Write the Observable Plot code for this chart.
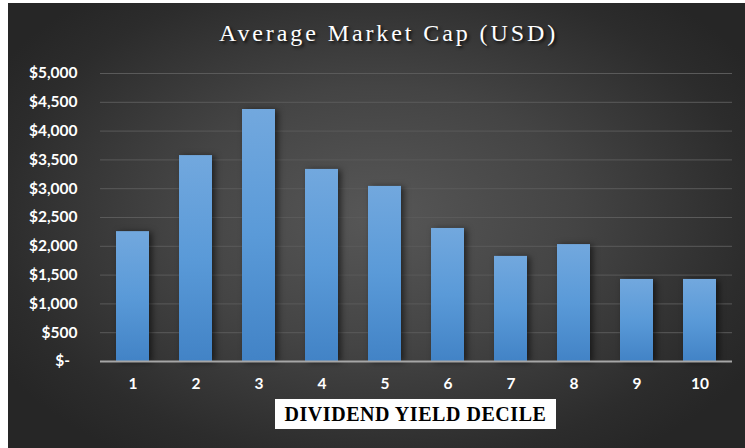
<!DOCTYPE html>
<html>
<head>
<meta charset="utf-8">
<script src="https://cdn.jsdelivr.net/npm/d3@7"></script>
<script src="https://cdn.jsdelivr.net/npm/@observablehq/plot@0.6"></script>
<style>
  html, body { margin: 0; padding: 0; background: #ffffff; }
  #chart {
    position: absolute; left: 8px; top: 3px; width: 737px; height: 445px;
    background: radial-gradient(ellipse 60% 65% at 50% 48%, #575757 0%, #444444 45%, #2c2c2c 85%, #262626 100%);
    overflow: hidden;
  }
  #title {
    position: absolute; left: 12px; top: 0; width: 737px; height: 50px;
    text-align: center; color: #ffffff;
    font-family: "Liberation Serif", "DejaVu Serif", serif;
    font-size: 24px; letter-spacing: 2.9px; line-height: 60px;
    text-shadow: 2px 2px 3px rgba(0,0,0,0.75);
  }
  #plot { position: absolute; left: 0; top: 50px; }
  #xtitle {
    position: absolute; left: 267px; top: 396px; width: 281px; height: 30px;
    background: #ffffff; color: #000000; text-align: center;
    font-family: "Liberation Serif", "DejaVu Serif", serif; font-weight: bold;
    font-size: 20px; letter-spacing: 0.55px; line-height: 31px;
  }
  .bars { filter: drop-shadow(3px 1px 3px rgba(0,0,0,0.55)); }
</style>
</head>
<body>
<div id="chart">
  <div id="title">Average Market Cap (USD)</div>
  <div id="plot"></div>
  <div id="xtitle">DIVIDEND YIELD DECILE</div>
</div>
<script>
const deciles = ["1","2","3","4","5","6","7","8","9","10"];
const avgMarketCap = [2255, 3575, 4375, 3335, 3040, 2310, 1825, 2030, 1425, 1425];
const yTicks = [0, 500, 1000, 1500, 2000, 2500, 3000, 3500, 4000, 4500, 5000];

const data = deciles.map((d, i) => ({decile: d, value: avgMarketCap[i]}));
const fmt = v => v === 0 ? "$-\u00a0\u00a0" : "$" + d3.format(",")(v);

const chart = Plot.plot({
  width: 737,
  height: 340,
  marginTop: 20,
  marginBottom: 32,
  marginLeft: 92,
  marginRight: 13,
  style: {background: "transparent", color: "#ffffff", fontFamily: "Lato, 'Open Sans', sans-serif", fontWeight: "bold", overflow: "visible"},
  x: {domain: deciles, paddingInner: 0.48, paddingOuter: 0.24},
  y: {domain: [0, 5000]},
  marks: [
    Plot.ruleY(yTicks.filter(t => t > 0), {stroke: "#5a5a5a", strokeWidth: 1}),
    Plot.barY(data, {x: "decile", y: "value", fill: "url(#barGrad)", className: "bars"}),
    Plot.ruleY([0], {stroke: "#a6a6a6", strokeWidth: 2}),
    Plot.axisY(yTicks, {tickFormat: fmt, label: null, tickSize: 0, tickPadding: 23, fontSize: 15.5, fontWeight: "bold", fill: "#ffffff"}),
    Plot.axisX({label: null, tickSize: 0, tickPadding: 16, fontSize: 15.5, fontWeight: "bold", fill: "#ffffff"})
  ]
});

const svg = d3.select(chart);
const defs = svg.insert("defs", ":first-child");
const g = defs.append("linearGradient").attr("id", "barGrad").attr("x1", 0).attr("y1", 0).attr("x2", 0).attr("y2", 1);
g.append("stop").attr("offset", "0%").attr("stop-color", "#72a8de");
g.append("stop").attr("offset", "50%").attr("stop-color", "#5a9ad8");
g.append("stop").attr("offset", "100%").attr("stop-color", "#4283c6");

document.getElementById("plot").appendChild(chart);
</script>
</body>
</html>
